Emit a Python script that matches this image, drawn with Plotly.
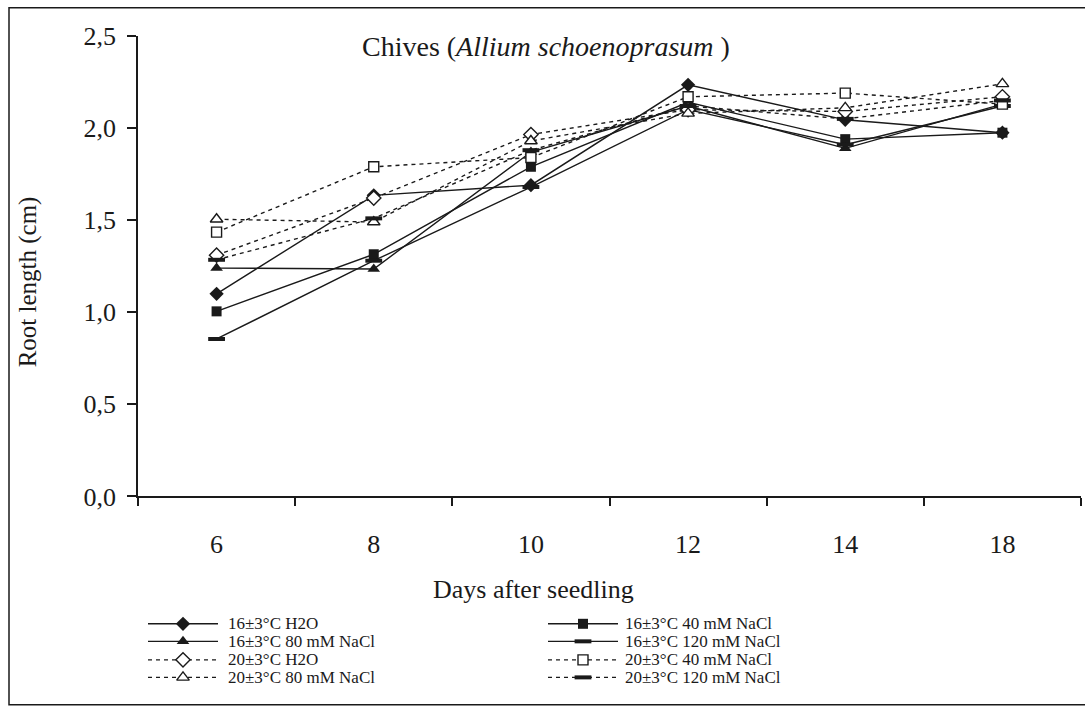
import plotly.graph_objects as go

# Days after seedling (categorical axis)
days = ["6", "8", "10", "12", "14", "18"]

# Root length (cm), 16±3°C
t16_h2o = [1.10, 1.635, 1.69, 2.235, 2.045, 1.975]
t16_40 = [1.005, 1.315, 1.79, 2.14, 1.94, 1.975]
t16_80 = [1.24, 1.235, 1.87, 2.12, 1.89, 2.13]
t16_120 = [0.855, 1.28, 1.68, 2.10, 1.91, 2.12]

# Root length (cm), 20±3°C
t20_h2o = [1.31, 1.62, 1.965, 2.10, 2.09, 2.17]
t20_40 = [1.435, 1.79, 1.84, 2.17, 2.19, 2.13]
t20_80 = [1.505, 1.49, 1.93, 2.08, 2.11, 2.24]
t20_120 = [1.285, 1.51, 1.88, 2.12, 2.05, 2.15]

series_names = [
    "16±3°C H2O", "16±3°C 40 mM NaCl", "16±3°C 80 mM NaCl", "16±3°C 120 mM NaCl",
    "20±3°C H2O", "20±3°C 40 mM NaCl", "20±3°C 80 mM NaCl", "20±3°C 120 mM NaCl",
]
series_values = [t16_h2o, t16_40, t16_80, t16_120, t20_h2o, t20_40, t20_80, t20_120]

FONT = "Liberation Serif, serif"
BLACK = "#1a1a1a"

# marker style per series: (symbol, size, fill, outline width)
styles = [
    ("diamond", 11, BLACK, 0),
    ("square", 10, BLACK, 0),
    ("triangle-up", 11, BLACK, 0),
    ("line-ew", 12, BLACK, 4),
    ("diamond", 11, "white", 1.4),
    ("square", 10, "white", 1.4),
    ("triangle-up", 11, "white", 1.4),
    ("line-ew", 12, BLACK, 4),
]
dashes = ["solid"] * 4 + ["4px,4px"] * 4

# pixel geometry of the page
W, H = 1085, 707
ML, MR, MT = 138, 4, 36
plot_w = W - ML - MR
plot_h = H - MT
axis_bottom_px = 507
y_dom0 = (H - axis_bottom_px) / plot_h


def px_x(p):
    return (p - ML) / plot_w


def px_y(p):
    return (H - p) / plot_h


def marker_dict(i):
    sym, size, fill, lw = styles[i]
    if sym == "line-ew":
        return dict(symbol=sym, size=size, color=BLACK, line=dict(color=BLACK, width=lw))
    return dict(symbol=sym, size=size, color=fill, line=dict(color=BLACK, width=lw))


fig = go.Figure()

for i, (name, vals) in enumerate(zip(series_names, series_values)):
    fig.add_trace(go.Scatter(
        x=days, y=vals, name=name, mode="lines+markers",
        line=dict(color=BLACK, width=1.4, dash=dashes[i]),
        marker=marker_dict(i), showlegend=False, cliponaxis=False,
    ))

# hand-built legend on an auxiliary pixel-scaled axis pair
legend_cols = [(148, 218, 226), (548, 618, 623)]
legend_rows = [637, 655, 674, 692]
legend_order = [[0, 2, 4, 6], [1, 3, 5, 7]]
annotations = []
for c, idxs in enumerate(legend_order):
    x0, x1, xt = legend_cols[c]
    xm = (x0 + x1) / 2
    for r, i in enumerate(idxs):
        yr = legend_rows[r]
        fig.add_trace(go.Scatter(
            x=[x0, x1], y=[yr, yr], mode="lines", xaxis="x2", yaxis="y2",
            line=dict(color=BLACK, width=1.4, dash=dashes[i]),
            showlegend=False, hoverinfo="skip",
        ))
        fig.add_trace(go.Scatter(
            x=[xm], y=[yr], mode="markers", xaxis="x2", yaxis="y2",
            marker=marker_dict(i), showlegend=False, hoverinfo="skip",
        ))
        annotations.append(dict(
            x=xt, y=yr, xref="x2", yref="y2", text=series_names[i],
            showarrow=False, xanchor="left", yanchor="middle",
            font=dict(family=FONT, size=17, color=BLACK),
        ))

annotations += [
    dict(x=px_x(546), y=px_y(47), xref="paper", yref="paper",
         text="Chives (<i>Allium schoenoprasum </i>)", showarrow=False,
         xanchor="center", yanchor="middle",
         font=dict(family=FONT, size=28, color=BLACK)),
    dict(x=px_x(533), y=px_y(602), xref="paper", yref="paper",
         text="Days after seedling", showarrow=False,
         xanchor="center", yanchor="middle",
         font=dict(family=FONT, size=26, color=BLACK)),
    dict(x=px_x(28), y=px_y(288), xref="paper", yref="paper",
         text="Root length (cm)", showarrow=False, textangle=-90,
         xanchor="center", yanchor="middle",
         font=dict(family=FONT, size=25, color=BLACK)),
]

fig.update_layout(
    width=W, height=H,
    margin=dict(l=ML, r=MR, t=MT, b=0, pad=0),
    paper_bgcolor="white", plot_bgcolor="white",
    separators=",.",
    font=dict(family=FONT, color=BLACK),
    xaxis=dict(
        type="category", range=[-0.5, 5.5], domain=[0, 1], anchor="y",
        showline=True, linecolor=BLACK, linewidth=1.5,
        ticks="outside", tickson="boundaries", ticklen=8, tickwidth=1.5, tickcolor=BLACK,
        ticklabelstandoff=24,
        showgrid=False, zeroline=False,
        tickfont=dict(family=FONT, size=26, color=BLACK),
    ),
    yaxis=dict(
        range=[0, 2.5], domain=[y_dom0, 1], anchor="x",
        tickvals=[0, 0.5, 1.0, 1.5, 2.0, 2.5], tickformat=".1f",
        showline=True, linecolor=BLACK, linewidth=1.5,
        ticks="outside", ticklen=9, tickwidth=1.5, tickcolor=BLACK,
        ticklabelstandoff=6,
        showgrid=False, zeroline=False,
        tickfont=dict(family=FONT, size=26, color=BLACK),
    ),
    xaxis2=dict(range=[ML, W - MR], domain=[0, 1], anchor="y2", visible=False,
                fixedrange=True),
    yaxis2=dict(range=[H, axis_bottom_px], domain=[0, y_dom0 - 0.001], anchor="x2",
                visible=False, fixedrange=True),
    annotations=annotations,
    shapes=[dict(type="rect", xref="paper", yref="paper",
                 x0=px_x(9), x1=px_x(1095), y0=px_y(720), y1=px_y(7),
                 line=dict(color=BLACK, width=1.5), fillcolor="rgba(0,0,0,0)",
                 layer="below")],
)

fig.write_html("out.html")
